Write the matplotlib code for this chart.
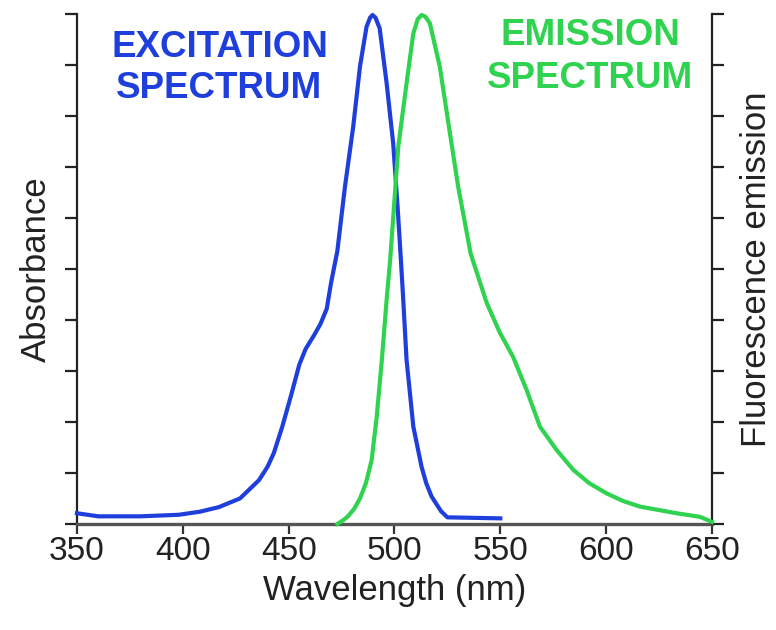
import matplotlib.pyplot as plt

# spectre d'excitation (absorbance normalisée)
EXC_NM = [350, 360, 380, 398, 408, 417, 427, 436, 440, 443, 447, 451, 455, 458,
          462, 465, 468, 470, 473, 476.6, 480.5, 483.7, 486.8, 488.5, 489.6, 491,
          493, 496.3, 499.4, 501.5, 503, 504, 505.7, 508.9, 512.8, 515, 517.5,
          522, 525, 550]
EXC_VAL = [0.021, 0.015, 0.015, 0.018, 0.024, 0.033, 0.050, 0.086, 0.112, 0.139,
           0.191, 0.250, 0.312, 0.343, 0.370, 0.392, 0.422, 0.472, 0.535, 0.661,
           0.779, 0.897, 0.975, 0.993, 0.998, 0.993, 0.972, 0.864, 0.746, 0.620,
           0.520, 0.450, 0.322, 0.191, 0.112, 0.080, 0.054, 0.025, 0.013, 0.011]

# spectre d'émission (fluorescence normalisée)
EMI_NM = [473, 476, 478, 481, 483.7, 486.5, 489.2, 491.6, 494, 496.3, 498, 501.8,
          505.7, 508.9, 511, 512.8, 514.5, 516.7, 521.4, 526.2, 530.1, 536, 543.6,
          549.8, 556, 562.4, 568.7, 576.6, 584.5, 592, 600.2, 608, 616, 633.3,
          644.3, 650]
EMI_VAL = [0.0, 0.008, 0.015, 0.030, 0.050, 0.080, 0.125, 0.210, 0.320, 0.440,
           0.520, 0.740, 0.864, 0.962, 0.990, 0.998, 0.995, 0.982, 0.897, 0.766,
           0.661, 0.530, 0.433, 0.375, 0.328, 0.263, 0.191, 0.145, 0.106, 0.080,
           0.060, 0.045, 0.034, 0.021, 0.014, 0.004]

X_TICKS = [350, 400, 450, 500, 550, 600, 650]
Y_TICKS = [i / 10 for i in range(11)]

BLUE = "#1f3fdc"
GREEN = "#2fd34f"


def main():
    plt.rcParams["font.family"] = ["Liberation Sans", "DejaVu Sans"]

    fig = plt.figure(figsize=(7.76, 6.3), dpi=100)
    ax = fig.add_axes([0.0992, 0.1683, 0.8183, 0.8095])
    ax2 = ax.twinx()

    ax.plot(EXC_NM, EXC_VAL, color=BLUE, lw=3.0, clip_on=False, zorder=3,
            solid_joinstyle="round")
    ax2.plot(EMI_NM, EMI_VAL, color=GREEN, lw=3.0, clip_on=False, zorder=3,
             solid_joinstyle="round")

    for a in (ax, ax2):
        a.set_xlim(350, 650)
        a.set_ylim(0, 1.0)
        a.set_yticks(Y_TICKS)
        a.spines["top"].set_visible(False)
    ax.spines["right"].set_visible(False)
    ax2.spines["left"].set_visible(False)
    ax2.spines["bottom"].set_visible(False)
    ax.spines["left"].set_color("#222222")
    ax.spines["left"].set_linewidth(1.6)
    ax2.spines["right"].set_color("#222222")
    ax2.spines["right"].set_linewidth(1.6)
    ax.spines["bottom"].set_color("#555555")
    ax.spines["bottom"].set_linewidth(2.4)

    ax.set_xticks(X_TICKS)
    ax.tick_params(axis="x", direction="out", length=7, width=1.6,
                   color="#333333", labelsize=24, labelcolor="#222222", pad=2)
    ax.tick_params(axis="y", direction="out", length=8.5, width=1.6,
                   color="#222222", labelleft=False)
    ax2.tick_params(axis="y", direction="out", length=8.5, width=1.6,
                    color="#222222", labelright=False)

    ax.set_xlabel("Wavelength (nm)", fontsize=25, color="#222222", labelpad=5)
    ax.set_ylabel("Absorbance", fontsize=25, color="#222222", labelpad=9)
    ax2.set_ylabel("Fluorescence emission", fontsize=25, color="#222222",
                   labelpad=12)

    # étiquettes des deux spectres
    ax.text(0.2244, 0.894, "EXCITATION\nSPECTRUM", transform=ax.transAxes,
            ha="center", va="center", ma="center", fontsize=26.5,
            fontweight="bold", color=BLUE, linespacing=1.2)
    ax.text(0.808, 0.916, "EMISSION\nSPECTRUM", transform=ax.transAxes,
            ha="center", va="center", ma="center", fontsize=26.5,
            fontweight="bold", color=GREEN, linespacing=1.3)

    fig.savefig("out.png", dpi=100)


if __name__ == "__main__":
    main()
